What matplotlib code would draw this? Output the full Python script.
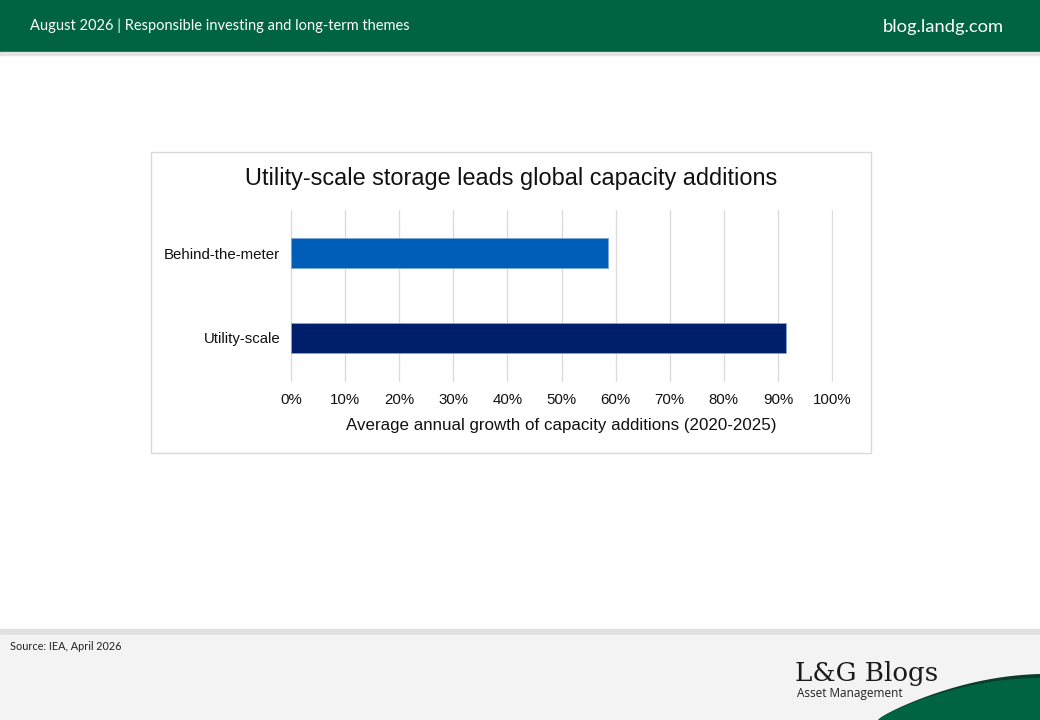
import numpy as np
import matplotlib.pyplot as plt
from matplotlib.patches import Rectangle, Polygon
from matplotlib.ticker import PercentFormatter

# data
categories = ["Utility-scale", "Behind-the-meter"]
growth = [91.5, 58.6]
bar_colors = ["#001f6b", "#005eb8"]

title = "Utility-scale storage leads global capacity additions"
xlabel = "Average annual growth of capacity additions (2020-2025)"
header_left = "August 2026 | Responsible investing and long-term themes"
header_right = "blog.landg.com"
source = "Source: IEA, April 2026"

W, H = 1040, 720
fig = plt.figure(figsize=(10.4, 7.2), dpi=100)
fig.patch.set_facecolor("white")

def px(x, y, w, h):
    # pixel box (top-left origin) -> figure fraction
    return [x / W, 1 - (y + h) / H, w / W, h / H]

bg = fig.add_axes([0, 0, 1, 1])
bg.set_xlim(0, W)
bg.set_ylim(H, 0)
bg.axis("off")

# header band
bg.add_patch(Rectangle((0, 0), W, 52, color="#006341"))
bg.add_patch(Rectangle((0, 52), W, 3, color="#e3e3e3"))
bg.text(30, 26, header_left, color="white", fontsize=10.5, family="Lato",
        va="center", ha="left")
bg.text(1004, 27, header_right, color="white", fontsize=13.2, family="Lato",
        va="center", ha="right")

# footer
bg.add_patch(Rectangle((0, 629), W, 6, color="#e1e1e1"))
bg.add_patch(Rectangle((0, 635), W, 85, color="#f3f3f3"))
bg.text(10, 647, source, color="#222222", fontsize=7.8, family="Lato",
        va="center", ha="left")
bg.text(795, 673, "L&G Blogs", color="#1a1a1a", fontsize=18.8,
        family="DejaVu Serif", va="center", ha="left")
bg.text(797, 694, "Asset Management", color="#222222", fontsize=8.5,
        family="Open Sans", va="center", ha="left")

# green wave bottom right
t = np.linspace(0, 1, 60)
xs = 878 + (W - 878) * t
top = 720 - 42 * np.sin(t * np.pi / 2) ** 0.8
edge = top - 4 * t
bg.add_patch(Polygon(np.column_stack([np.r_[xs, W, 878], np.r_[edge, 720, 720]]),
                     closed=True, color="#0b3b2c", lw=0))
bg.add_patch(Polygon(np.column_stack([np.r_[xs, W, 878], np.r_[top, 720, 720]]),
                     closed=True, color="#006341", lw=0))

# chart card
bg.add_patch(Rectangle((150.5, 151.5), 720, 301, facecolor="white",
                       edgecolor="#d9d9d9", lw=1))
bg.text(511, 178, title, fontsize=16.9, family="Liberation Sans",
        color="#111111", ha="center", va="center")

ax = fig.add_axes(px(290, 210, 543, 172))
y = np.arange(len(categories))
ax.barh(y, growth, height=0.35, color=bar_colors, edgecolor="#7fa6d6",
        linewidth=0.6, zorder=3)
ax.set_xlim(-0.18, 100.18)
ax.set_ylim(-0.52, 1.51)
ax.set_xticks(np.arange(0, 101, 10))
ax.xaxis.set_major_formatter(PercentFormatter(decimals=0))
ax.set_yticks(y)
ax.set_yticklabels(categories)
ax.grid(axis="x", color="#dcdcdc", lw=1, zorder=0)
for s in ax.spines.values():
    s.set_visible(False)
ax.tick_params(length=0, labelsize=10.8, colors="#111111")
ax.tick_params(axis="x", pad=8)
ax.tick_params(axis="y", pad=7)
for lab in ax.get_xticklabels() + ax.get_yticklabels():
    lab.set_family("Liberation Sans")
ax.set_xlabel(xlabel, fontsize=12.2, family="Liberation Sans",
              color="#111111", labelpad=8)

fig.savefig("out.png", dpi=100)
